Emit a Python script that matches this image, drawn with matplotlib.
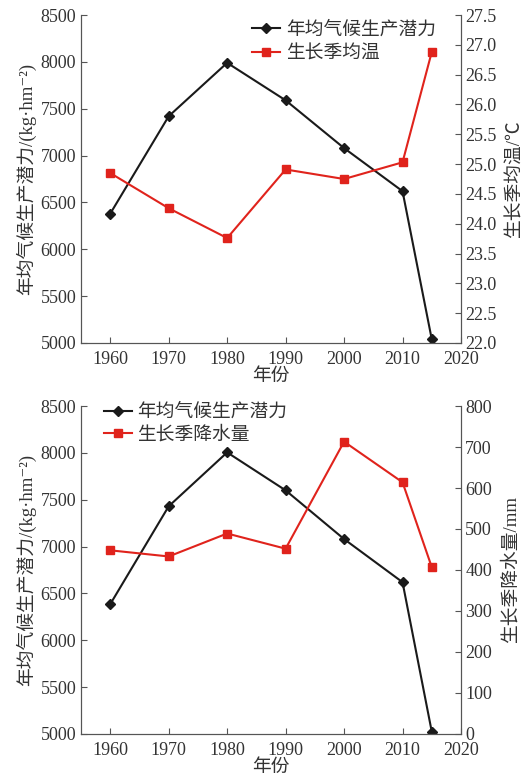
import matplotlib.pyplot as plt

# data
years = [1960, 1970, 1980, 1990, 2000, 2010, 2015]
potential_top = [6380, 7420, 7990, 7590, 7080, 6620, 5040]
temperature = [24.85, 24.26, 23.76, 24.91, 24.75, 25.03, 26.88]
potential_bottom = [6385, 7430, 8005, 7600, 7080, 6620, 5025]
precipitation = [448, 433, 489, 452, 713, 614, 407]

x_ticks = [1960, 1970, 1980, 1990, 2000, 2010, 2020]
left_ticks = [5000, 5500, 6000, 6500, 7000, 7500, 8000, 8500]
temp_ticks = [22.0, 22.5, 23.0, 23.5, 24.0, 24.5, 25.0, 25.5, 26.0, 26.5, 27.0, 27.5]
prec_ticks = [0, 100, 200, 300, 400, 500, 600, 700, 800]

plt.rcParams['font.family'] = ['Liberation Serif', 'Noto Sans CJK SC', 'DejaVu Sans']
plt.rcParams['axes.unicode_minus'] = False

spine_color = '#555555'
text_color = '#333333'
black = '#1a1a1a'
red = '#e0231c'
tick_size = 13
label_size = 13.5


def style_axes(ax, twin):
    for side in ['left', 'right', 'bottom']:
        ax.spines[side].set_color(spine_color)
        twin.spines[side].set_color(spine_color)
    ax.spines['top'].set_visible(False)
    twin.spines['top'].set_visible(False)
    ax.tick_params(direction='in', length=4, color=spine_color,
                   labelsize=tick_size, labelcolor=text_color)
    ax.tick_params(axis='x', pad=6)
    twin.tick_params(direction='in', length=4, color=spine_color,
                     labelsize=tick_size, labelcolor=text_color, pad=3)
    ax.set_xlim(1955, 2020)
    ax.set_xticks(x_ticks)
    ax.set_ylim(5000, 8500)
    ax.set_yticks(left_ticks)
    ax.set_xlabel('年份', fontsize=label_size, color=text_color, labelpad=0)
    ax.set_ylabel('年均气候生产潜力/(kg·hm⁻²)', fontsize=label_size,
                  color=text_color, labelpad=3)


fig = plt.figure(figsize=(5.26, 7.79), dpi=100)

# top panel: potential vs growing season temperature
ax1 = fig.add_axes([0.154, 0.5597, 0.7224, 0.421])
ax1b = ax1.twinx()
l1, = ax1.plot(years, potential_top, color=black, marker='D', markersize=5.5, lw=1.5)
l2, = ax1b.plot(years, temperature, color=red, marker='s', markersize=6, lw=1.5)
style_axes(ax1, ax1b)
ax1b.set_ylim(22.0, 27.5)
ax1b.set_yticks(temp_ticks)
ax1b.set_yticklabels([f'{t:.1f}' for t in temp_ticks])
ax1b.set_ylabel('生长季均温/℃', fontsize=label_size, color=text_color, labelpad=7)
ax1.legend([l1, l2], ['年均气候生产潜力', '生长季均温'], loc='upper left',
           bbox_to_anchor=(0.43, 1.005), frameon=False, fontsize=label_size,
           handlelength=1.5, handletextpad=0.3, labelspacing=0.4,
           borderaxespad=0, labelcolor=text_color)

# bottom panel: potential vs growing season precipitation
ax2 = fig.add_axes([0.154, 0.0578, 0.7224, 0.421])
ax2b = ax2.twinx()
l3, = ax2.plot(years, potential_bottom, color=black, marker='D', markersize=5.5, lw=1.5)
l4, = ax2b.plot(years, precipitation, color=red, marker='s', markersize=6, lw=1.5)
style_axes(ax2, ax2b)
ax2b.set_ylim(0, 800)
ax2b.set_yticks(prec_ticks)
ax2b.set_ylabel('生长季降水量/mm', fontsize=label_size, color=text_color, labelpad=7)
ax2.legend([l3, l4], ['年均气候生产潜力', '生长季降水量'], loc='upper left',
           bbox_to_anchor=(0.04, 1.03), frameon=False, fontsize=label_size,
           handlelength=1.5, handletextpad=0.3, labelspacing=0.25,
           borderaxespad=0, labelcolor=text_color)

fig.savefig('out.png', dpi=100, facecolor='white')
